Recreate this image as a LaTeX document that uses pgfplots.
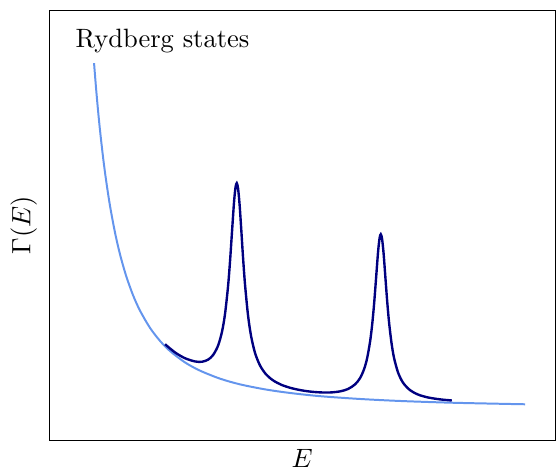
\documentclass[border=0pt]{standalone}
\usepackage{pgfplots}
\pgfplotsset{compat=1.18}
\definecolor{lightcurve}{RGB}{100,149,237}
\definecolor{darkcurve}{RGB}{0,0,128}
\begin{document}
\begin{tikzpicture}
\begin{axis}[
  scale only axis,
  width=190.9pt, height=162.3pt,
  xmin=49, xmax=555, ymin=0, ymax=430,
  xtick=\empty, ytick=\empty,
  xlabel={$E$}, ylabel={$\Gamma(E)$},
  ylabel style={yshift=1pt},
  clip=false,
]
\addplot[lightcurve, line width=0.75pt, smooth] coordinates {
(94,377.0) (96,352.0) (98,329.6) (100,309.5) (103,283.0) (106,260.1)
(110,234.1) (115,207.4) (120,185.7) (126,164.6) (133,145.0) (140,129.5)
(150,112.3) (160,99.3) (170,89.2) (185,77.8) (200,69.6) (220,61.6)
(240,55.9) (265,50.9) (290,47.3) (320,44.1) (360,41.3) (400,39.3)
(450,37.6) (500,36.5) (525,36.0)
};
\addplot[darkcurve, line width=0.9pt, smooth] coordinates {
(165,96.0) (175,87.8) (185,82.0) (195,78.8) (202,78.5) (208,80.6)
(213,85.2) (218,94.6) (222,108.8) (225,126.6) (228,154.1) (230,179.4)
(232,209.3) (234,238.4) (235.5,253.1) (236.7,257.0) (238,251.8)
(239.5,236.0) (241,213.7) (243,182.4) (245,155.2) (248,124.6)
(251,104.3) (255,87.2) (260,74.7) (266,65.9) (273,59.9) (281,55.6)
(290,52.5) (300,50.2) (310,48.7) (320,47.9) (330,47.8) (340,48.9)
(348,51.3) (355,55.9) (360,62.2) (364,71.1) (367,81.8) (370,98.6)
(372,114.8) (374,136.1) (376,162.1) (378,188.4) (379.5,202.1)
(380.7,205.9) (382,201.3) (383.5,186.9) (385,167.1) (387,140.3)
(389,117.7) (391.5,96.8) (394,82.2) (398,67.7) (403,57.5) (410,50.1)
(418,45.7) (428,42.8) (440,40.9) (451.7,39.8)
};
\node[anchor=base west, inner sep=0pt] at (axis cs:75,392.5) {Rydberg states};
\end{axis}
\pgfresetboundingbox
\path[use as bounding box] ([xshift=-18.5pt,yshift=-12.1pt]current axis.south west) rectangle ([xshift=1.1pt,yshift=3.8pt]current axis.north east);
\end{tikzpicture}
\end{document}
